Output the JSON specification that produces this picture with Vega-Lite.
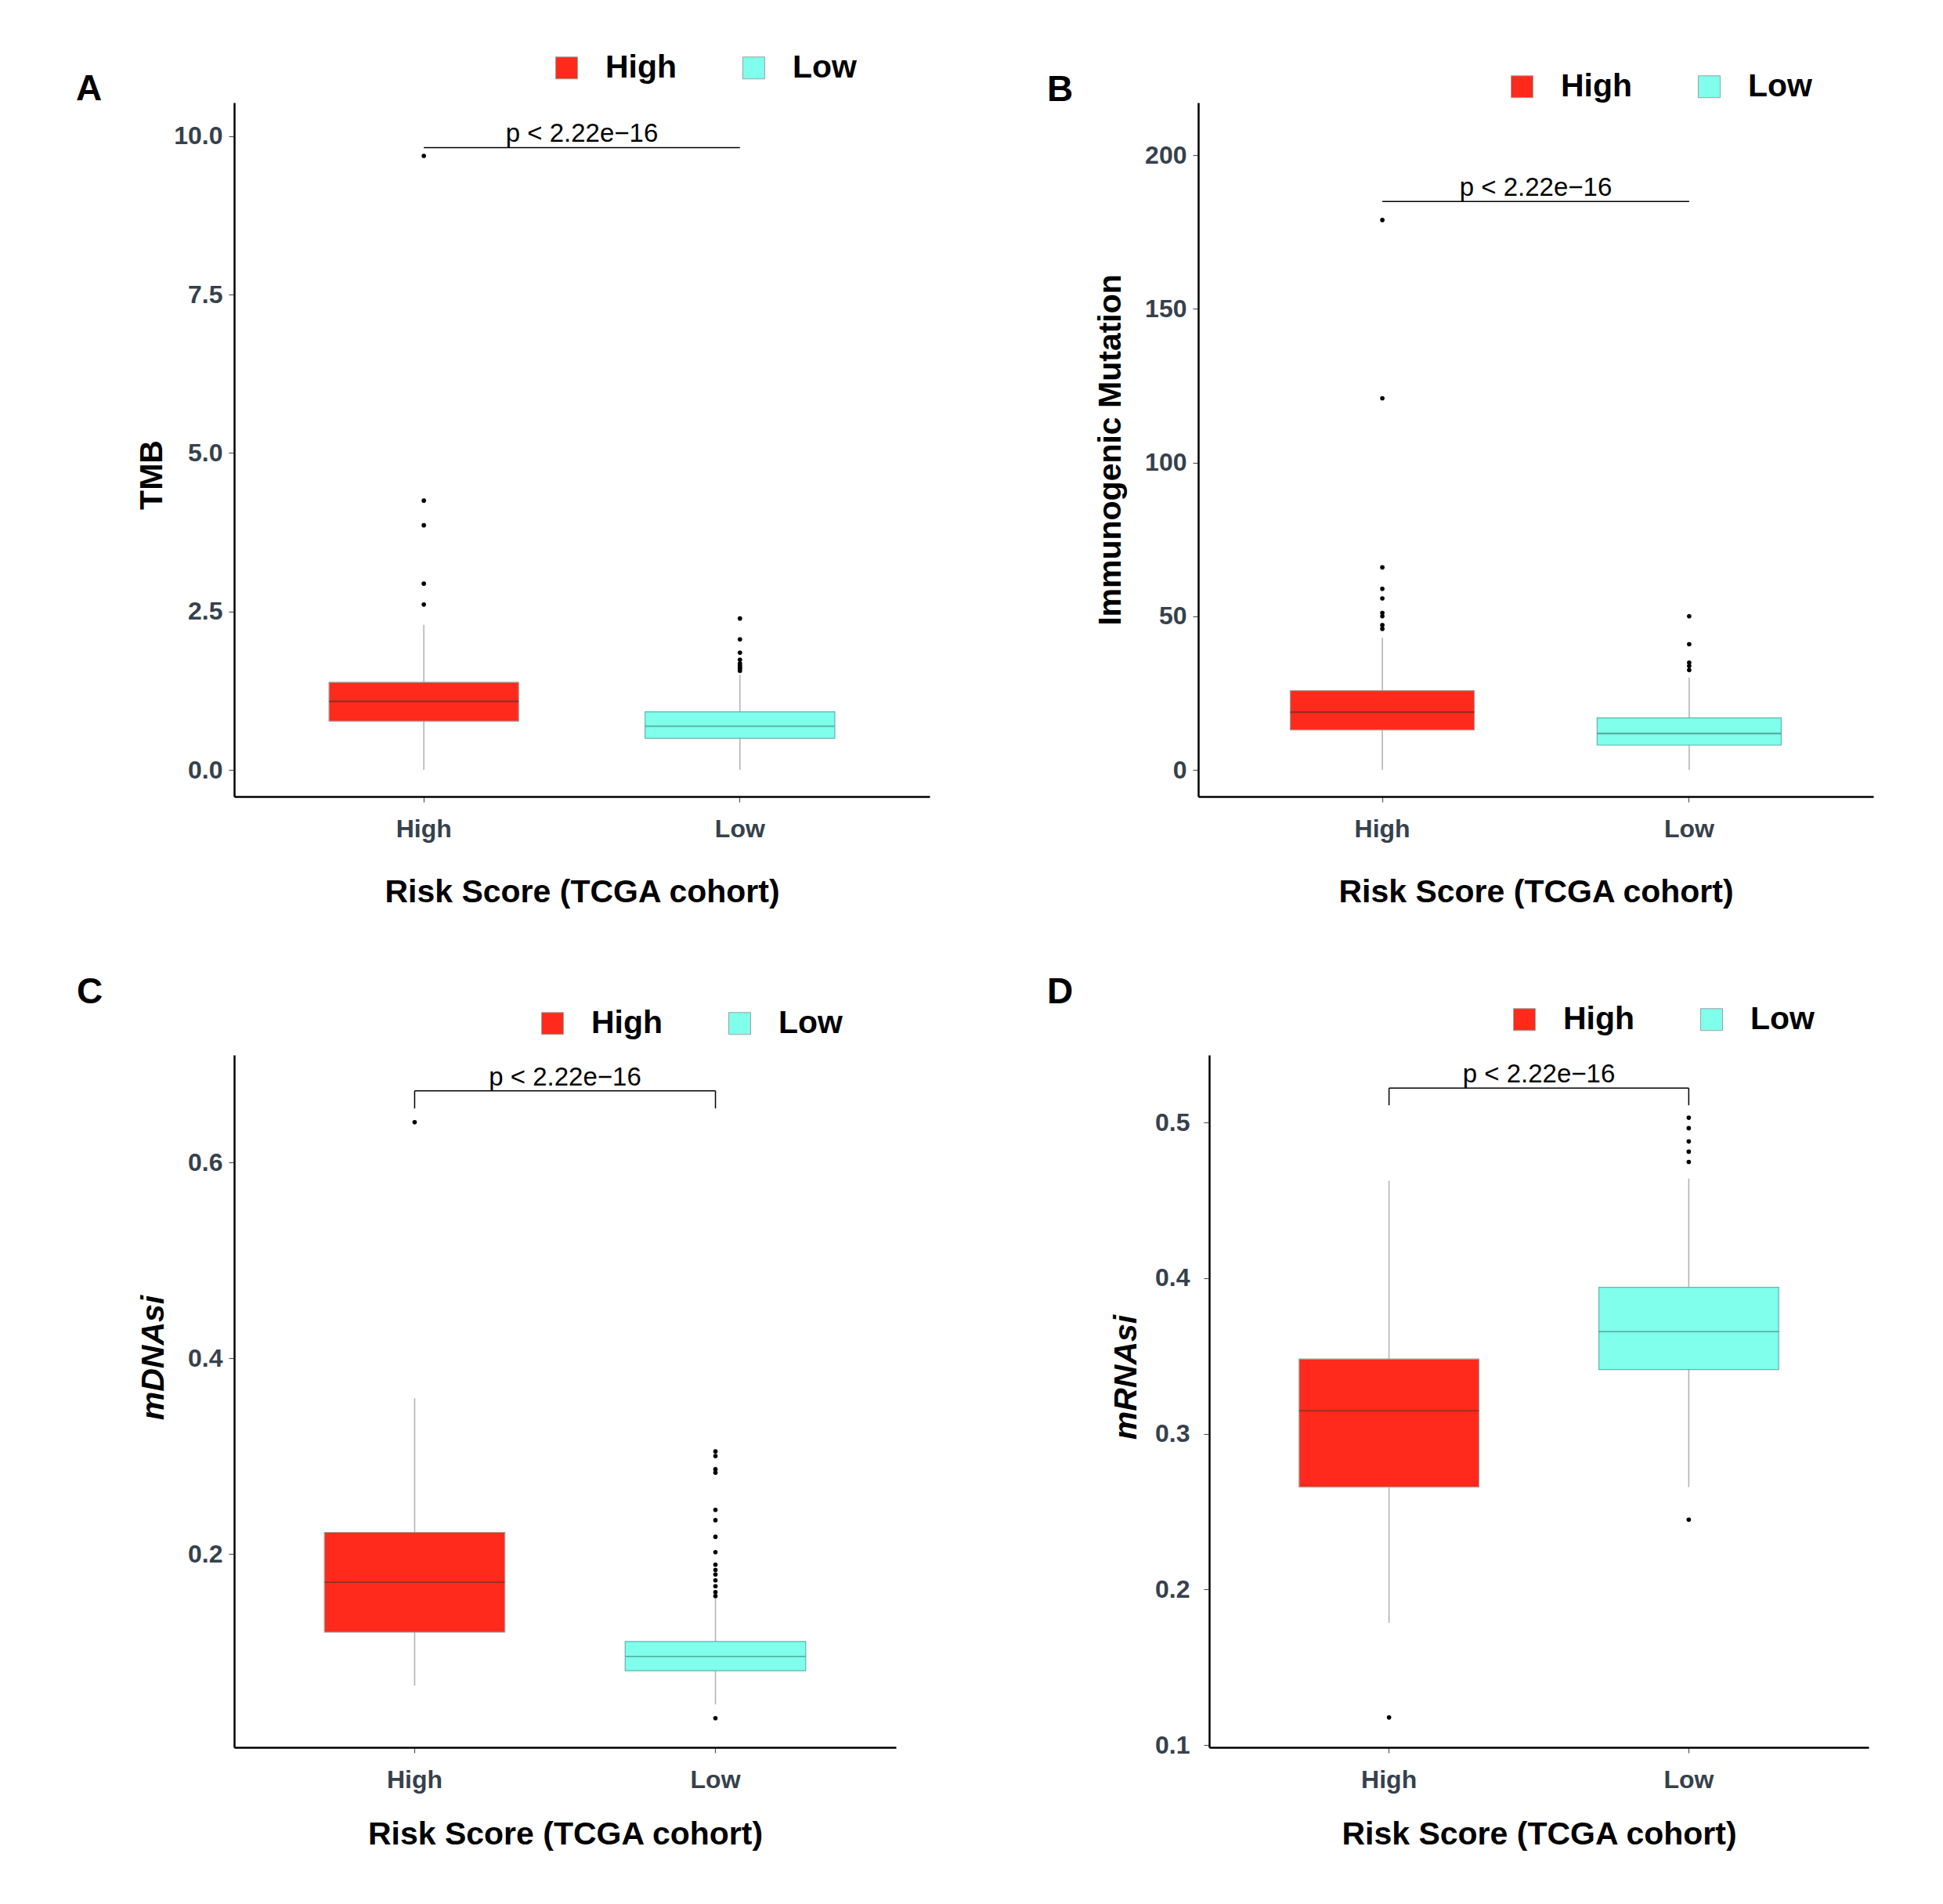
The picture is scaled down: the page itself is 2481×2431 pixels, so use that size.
{
  "$schema": "https://vega.github.io/schema/vega-lite/v6.json",
  "background": "white",
  "padding": {"left": 97, "top": 66, "right": 10, "bottom": 10},
  "config": {
    "font": "Liberation Sans",
    "view": {"stroke": null},
    "axis": {"grid": false, "domainColor": "black", "domainWidth": 2.5, "tickColor": "#555555", "tickSize": 7, "tickWidth": 1.2, "labelFontSize": 32, "labelFontWeight": "bold", "labelColor": "#36414C", "titleFontSize": 41, "titleFontWeight": "bold", "titleColor": "black"},
    "axisX": {"labelPadding": 19, "titlePadding": 45, "labelAngle": 0},
    "axisY": {"labelPadding": 8, "titlePadding": 22},
    "legend": {"direction": "horizontal", "labelFontSize": 41, "labelFontWeight": "bold", "labelColor": "black", "symbolType": "square", "symbolSize": 784, "symbolStrokeColor": "#A0A0A0", "symbolStrokeWidth": 1, "labelOffset": 29, "columnPadding": 77},
    "title": {"fontSize": 46, "fontWeight": "bold", "color": "black", "anchor": "start", "frame": "group"}
  },
  "datasets": {
    "stats": [
      {"panel": "A", "group": "High", "lower": 0, "q1": 0.767, "median": 1.083, "q3": 1.383, "upper": 2.29},
      {"panel": "A", "group": "Low", "lower": 0, "q1": 0.498, "median": 0.688, "q3": 0.917, "upper": 1.50},
      {"panel": "B", "group": "High", "lower": 0, "q1": 13.0, "median": 18.8, "q3": 25.8, "upper": 43.0},
      {"panel": "B", "group": "Low", "lower": 0, "q1": 8.1, "median": 11.85, "q3": 16.9, "upper": 30.0},
      {"panel": "C", "group": "High", "lower": 0.0655, "q1": 0.120, "median": 0.171, "q3": 0.222, "upper": 0.359},
      {"panel": "C", "group": "Low", "lower": 0.0462, "q1": 0.0807, "median": 0.0953, "q3": 0.1105, "upper": 0.155},
      {"panel": "D", "group": "High", "lower": 0.1785, "q1": 0.2657, "median": 0.3147, "q3": 0.348, "upper": 0.4624},
      {"panel": "D", "group": "Low", "lower": 0.2657, "q1": 0.3412, "median": 0.3656, "q3": 0.394, "upper": 0.4639}
    ],
    "outliers": [
      {"panel": "A", "group": "High", "value": 2.61},
      {"panel": "A", "group": "High", "value": 2.94},
      {"panel": "A", "group": "High", "value": 3.86},
      {"panel": "A", "group": "High", "value": 4.25},
      {"panel": "A", "group": "High", "value": 9.69},
      {"panel": "A", "group": "Low", "value": 1.565},
      {"panel": "A", "group": "Low", "value": 1.60},
      {"panel": "A", "group": "Low", "value": 1.62},
      {"panel": "A", "group": "Low", "value": 1.65},
      {"panel": "A", "group": "Low", "value": 1.68},
      {"panel": "A", "group": "Low", "value": 1.74},
      {"panel": "A", "group": "Low", "value": 1.85},
      {"panel": "A", "group": "Low", "value": 2.06},
      {"panel": "A", "group": "Low", "value": 2.39},
      {"panel": "B", "group": "High", "value": 45.9},
      {"panel": "B", "group": "High", "value": 47.1},
      {"panel": "B", "group": "High", "value": 50.0},
      {"panel": "B", "group": "High", "value": 51.1},
      {"panel": "B", "group": "High", "value": 55.8},
      {"panel": "B", "group": "High", "value": 58.9},
      {"panel": "B", "group": "High", "value": 65.9},
      {"panel": "B", "group": "High", "value": 120.9},
      {"panel": "B", "group": "High", "value": 178.9},
      {"panel": "B", "group": "Low", "value": 32.5},
      {"panel": "B", "group": "Low", "value": 33.8},
      {"panel": "B", "group": "Low", "value": 34.9},
      {"panel": "B", "group": "Low", "value": 40.9},
      {"panel": "B", "group": "Low", "value": 50.0},
      {"panel": "C", "group": "High", "value": 0.641},
      {"panel": "C", "group": "Low", "value": 0.0322},
      {"panel": "C", "group": "Low", "value": 0.157},
      {"panel": "C", "group": "Low", "value": 0.161},
      {"panel": "C", "group": "Low", "value": 0.167},
      {"panel": "C", "group": "Low", "value": 0.173},
      {"panel": "C", "group": "Low", "value": 0.179},
      {"panel": "C", "group": "Low", "value": 0.1836},
      {"panel": "C", "group": "Low", "value": 0.189},
      {"panel": "C", "group": "Low", "value": 0.2018},
      {"panel": "C", "group": "Low", "value": 0.2175},
      {"panel": "C", "group": "Low", "value": 0.2345},
      {"panel": "C", "group": "Low", "value": 0.245},
      {"panel": "C", "group": "Low", "value": 0.283},
      {"panel": "C", "group": "Low", "value": 0.2865},
      {"panel": "C", "group": "Low", "value": 0.300},
      {"panel": "C", "group": "Low", "value": 0.3047},
      {"panel": "D", "group": "High", "value": 0.1177},
      {"panel": "D", "group": "Low", "value": 0.2448},
      {"panel": "D", "group": "Low", "value": 0.4746},
      {"panel": "D", "group": "Low", "value": 0.4812},
      {"panel": "D", "group": "Low", "value": 0.4878},
      {"panel": "D", "group": "Low", "value": 0.4963},
      {"panel": "D", "group": "Low", "value": 0.503}
    ],
    "brackets": [
      {"panel": "A", "g1": "High", "g2": "Low", "ytop": 9.82, "label": "p < 2.22e\u221216"},
      {"panel": "B", "g1": "High", "g2": "Low", "ytop": 184.9, "label": "p < 2.22e\u221216"},
      {"panel": "C", "g1": "High", "g2": "Low", "ytop": 0.673, "label": "p < 2.22e\u221216"},
      {"panel": "D", "g1": "High", "g2": "Low", "ytop": 0.522, "label": "p < 2.22e\u221216"}
    ],
    "bracketEnds": [
      {"panel": "C", "group": "High", "yend": 0.655, "ytop": 0.673},
      {"panel": "C", "group": "Low", "yend": 0.655, "ytop": 0.673},
      {"panel": "D", "group": "High", "yend": 0.511, "ytop": 0.522},
      {"panel": "D", "group": "Low", "yend": 0.511, "ytop": 0.522}
    ]
  },
  "resolve": {"scale": {"color": "independent"}, "legend": {"color": "independent"}},
  "spacing": 85,
  "vconcat": [
    {
      "hconcat": [
        {
          "width": 888, "height": 886,
          "title": {"text": "A", "dx": -202, "dy": 76, "offset": 4},
          "layer": [
            {"data": {"name": "stats"}, "transform": [{"filter": "datum.panel === 'A'"}],
             "mark": {"type": "rule", "color": "#B0B0B0", "strokeWidth": 1.5},
             "encoding": {
               "x": {"field": "group", "type": "nominal", "title": "Risk Score (TCGA cohort)", "scale": {"domain": ["High", "Low"], "paddingInner": 0, "paddingOuter": 0.1}},
               "y": {"field": "lower", "type": "quantitative", "title": "TMB", "scale": {"domain": [-0.42, 10.53], "nice": false, "zero": false}, "axis": {"values": [0, 2.5, 5, 7.5, 10], "format": ".1f", "titlePadding": 6, "titleY": 475}},
               "y2": {"field": "upper"}}},
            {"data": {"name": "stats"}, "transform": [{"filter": "datum.panel === 'A'"}],
             "mark": {"type": "bar", "width": {"band": 0.6}, "strokeWidth": 1.2},
             "encoding": {
               "x": {"field": "group", "type": "nominal", "title": "Risk Score (TCGA cohort)"},
               "y": {"field": "q1", "type": "quantitative", "title": "TMB"},
               "y2": {"field": "q3"},
               "color": {"field": "group", "type": "nominal", "scale": {"domain": ["High", "Low"], "range": ["#FF2A1C", "#7FFFEC"]}, "legend": {"title": null, "orient": "none", "legendX": 404, "legendY": -65}},
               "stroke": {"condition": {"test": "datum.group === 'High'", "value": "#A0A0A0"}, "value": "#63B3A9"}}},
            {"data": {"name": "stats"}, "transform": [{"filter": "datum.panel === 'A'"}],
             "mark": {"type": "tick", "size": 242, "thickness": 2},
             "encoding": {
               "x": {"field": "group", "type": "nominal", "title": "Risk Score (TCGA cohort)"},
               "y": {"field": "median", "type": "quantitative", "title": "TMB"},
               "color": {"condition": {"test": "datum.group === 'High'", "value": "#5A2E26"}, "value": "#4F9A92"}}},
            {"data": {"name": "outliers"}, "transform": [{"filter": "datum.panel === 'A'"}],
             "mark": {"type": "circle", "size": 32, "color": "black", "opacity": 1},
             "encoding": {
               "x": {"field": "group", "type": "nominal", "title": "Risk Score (TCGA cohort)"},
               "y": {"field": "value", "type": "quantitative", "title": "TMB"}}},
            {"data": {"name": "brackets"}, "transform": [{"filter": "datum.panel === 'A'"}],
             "mark": {"type": "rule", "color": "black", "strokeWidth": 1.5},
             "encoding": {
               "x": {"field": "g1", "type": "nominal", "title": "Risk Score (TCGA cohort)"},
               "x2": {"field": "g2"},
               "y": {"field": "ytop", "type": "quantitative", "title": "TMB"}}},
            {"data": {"name": "brackets"}, "transform": [{"filter": "datum.panel === 'A'"}],
             "mark": {"type": "text", "fontSize": 33, "baseline": "alphabetic", "align": "center", "dy": -7, "color": "black"},
             "encoding": {
               "x": {"field": "g1", "type": "nominal", "bandPosition": 1, "title": "Risk Score (TCGA cohort)"},
               "y": {"field": "ytop", "type": "quantitative", "title": "TMB"},
               "text": {"field": "label"}}}
          ]
        },
        {
          "width": 862, "height": 886,
          "title": {"text": "B", "dx": -193, "dy": 53, "offset": 4},
          "layer": [
            {"data": {"name": "stats"}, "transform": [{"filter": "datum.panel === 'B'"}],
             "mark": {"type": "rule", "color": "#B0B0B0", "strokeWidth": 1.5},
             "encoding": {
               "x": {"field": "group", "type": "nominal", "title": "Risk Score (TCGA cohort)", "scale": {"domain": ["High", "Low"], "paddingInner": 0, "paddingOuter": 0.1}},
               "y": {"field": "lower", "type": "quantitative", "title": "Immunogenic Mutation", "scale": {"domain": [-8.66, 217.1], "nice": false, "zero": false}, "axis": {"values": [0, 50, 100, 150, 200]}},
               "y2": {"field": "upper"}}},
            {"data": {"name": "stats"}, "transform": [{"filter": "datum.panel === 'B'"}],
             "mark": {"type": "bar", "width": {"band": 0.6}, "strokeWidth": 1.2},
             "encoding": {
               "x": {"field": "group", "type": "nominal", "title": "Risk Score (TCGA cohort)"},
               "y": {"field": "q1", "type": "quantitative", "title": "Immunogenic Mutation"},
               "y2": {"field": "q3"},
               "color": {"field": "group", "type": "nominal", "scale": {"domain": ["High", "Low"], "range": ["#FF2A1C", "#7FFFEC"]}, "legend": {"title": null, "orient": "none", "legendX": 393, "legendY": -41}},
               "stroke": {"condition": {"test": "datum.group === 'High'", "value": "#A0A0A0"}, "value": "#63B3A9"}}},
            {"data": {"name": "stats"}, "transform": [{"filter": "datum.panel === 'B'"}],
             "mark": {"type": "tick", "size": 235, "thickness": 2},
             "encoding": {
               "x": {"field": "group", "type": "nominal", "title": "Risk Score (TCGA cohort)"},
               "y": {"field": "median", "type": "quantitative", "title": "Immunogenic Mutation"},
               "color": {"condition": {"test": "datum.group === 'High'", "value": "#5A2E26"}, "value": "#3F7F78"}}},
            {"data": {"name": "outliers"}, "transform": [{"filter": "datum.panel === 'B'"}],
             "mark": {"type": "circle", "size": 32, "color": "black", "opacity": 1},
             "encoding": {
               "x": {"field": "group", "type": "nominal", "title": "Risk Score (TCGA cohort)"},
               "y": {"field": "value", "type": "quantitative", "title": "Immunogenic Mutation"}}},
            {"data": {"name": "brackets"}, "transform": [{"filter": "datum.panel === 'B'"}],
             "mark": {"type": "rule", "color": "black", "strokeWidth": 1.5},
             "encoding": {
               "x": {"field": "g1", "type": "nominal", "title": "Risk Score (TCGA cohort)"},
               "x2": {"field": "g2"},
               "y": {"field": "ytop", "type": "quantitative", "title": "Immunogenic Mutation"}}},
            {"data": {"name": "brackets"}, "transform": [{"filter": "datum.panel === 'B'"}],
             "mark": {"type": "text", "fontSize": 33, "baseline": "alphabetic", "align": "center", "dy": -7, "color": "black"},
             "encoding": {
               "x": {"field": "g1", "type": "nominal", "bandPosition": 1, "title": "Risk Score (TCGA cohort)"},
               "y": {"field": "ytop", "type": "quantitative", "title": "Immunogenic Mutation"},
               "text": {"field": "label"}}}
          ]
        }
      ],
      "spacing": 343,
      "bounds": "flush",
      "resolve": {"scale": {"color": "independent"}, "legend": {"color": "independent"}}
    },
    {
      "hconcat": [
        {
          "width": 845, "height": 884,
          "title": {"text": "C", "dx": -201, "dy": 9, "offset": 4},
          "layer": [
            {"data": {"name": "stats"}, "transform": [{"filter": "datum.panel === 'C'"}],
             "mark": {"type": "rule", "color": "#B0B0B0", "strokeWidth": 1.5},
             "encoding": {
               "x": {"field": "group", "type": "nominal", "title": "Risk Score (TCGA cohort)", "scale": {"domain": ["High", "Low"], "paddingInner": 0, "paddingOuter": 0.1}, "axis": {"titlePadding": 34}},
               "y": {"field": "lower", "type": "quantitative", "title": "mDNAsi", "scale": {"domain": [0.0024, 0.7096], "nice": false, "zero": false}, "axis": {"values": [0.2, 0.4, 0.6], "format": ".1f", "titleFontStyle": "italic", "titleY": 386}},
               "y2": {"field": "upper"}}},
            {"data": {"name": "stats"}, "transform": [{"filter": "datum.panel === 'C'"}],
             "mark": {"type": "bar", "width": {"band": 0.6}, "strokeWidth": 1.2},
             "encoding": {
               "x": {"field": "group", "type": "nominal", "title": "Risk Score (TCGA cohort)"},
               "y": {"field": "q1", "type": "quantitative", "title": "mDNAsi"},
               "y2": {"field": "q3"},
               "color": {"field": "group", "type": "nominal", "scale": {"domain": ["High", "Low"], "range": ["#FF2A1C", "#7FFFEC"]}, "legend": {"title": null, "orient": "none", "legendX": 386, "legendY": -61}},
               "stroke": {"condition": {"test": "datum.group === 'High'", "value": "#A0A0A0"}, "value": "#63B3A9"}}},
            {"data": {"name": "stats"}, "transform": [{"filter": "datum.panel === 'C'"}],
             "mark": {"type": "tick", "size": 230, "thickness": 1.5},
             "encoding": {
               "x": {"field": "group", "type": "nominal", "title": "Risk Score (TCGA cohort)"},
               "y": {"field": "median", "type": "quantitative", "title": "mDNAsi"},
               "color": {"condition": {"test": "datum.group === 'High'", "value": "#5A2E26"}, "value": "#3F7F78"}}},
            {"data": {"name": "outliers"}, "transform": [{"filter": "datum.panel === 'C'"}],
             "mark": {"type": "circle", "size": 32, "color": "black", "opacity": 1},
             "encoding": {
               "x": {"field": "group", "type": "nominal", "title": "Risk Score (TCGA cohort)"},
               "y": {"field": "value", "type": "quantitative", "title": "mDNAsi"}}},
            {"data": {"name": "brackets"}, "transform": [{"filter": "datum.panel === 'C'"}],
             "mark": {"type": "rule", "color": "black", "strokeWidth": 1.5},
             "encoding": {
               "x": {"field": "g1", "type": "nominal", "title": "Risk Score (TCGA cohort)"},
               "x2": {"field": "g2"},
               "y": {"field": "ytop", "type": "quantitative", "title": "mDNAsi"}}},
            {"data": {"name": "bracketEnds"}, "transform": [{"filter": "datum.panel === 'C'"}],
             "mark": {"type": "rule", "color": "black", "strokeWidth": 1.5},
             "encoding": {
               "x": {"field": "group", "type": "nominal", "title": "Risk Score (TCGA cohort)"},
               "y": {"field": "yend", "type": "quantitative", "title": "mDNAsi"},
               "y2": {"field": "ytop"}}},
            {"data": {"name": "brackets"}, "transform": [{"filter": "datum.panel === 'C'"}],
             "mark": {"type": "text", "fontSize": 33, "baseline": "alphabetic", "align": "center", "dy": -7, "color": "black"},
             "encoding": {
               "x": {"field": "g1", "type": "nominal", "bandPosition": 1, "title": "Risk Score (TCGA cohort)"},
               "y": {"field": "ytop", "type": "quantitative", "title": "mDNAsi"},
               "text": {"field": "label"}}}
          ]
        },
        {
          "width": 842, "height": 884,
          "title": {"text": "D", "dx": -207, "dy": 14, "offset": 4},
          "layer": [
            {"data": {"name": "stats"}, "transform": [{"filter": "datum.panel === 'D'"}],
             "mark": {"type": "rule", "color": "#B0B0B0", "strokeWidth": 1.5},
             "encoding": {
               "x": {"field": "group", "type": "nominal", "title": "Risk Score (TCGA cohort)", "scale": {"domain": ["High", "Low"], "paddingInner": 0, "paddingOuter": 0.1}, "axis": {"titlePadding": 34}},
               "y": {"field": "lower", "type": "quantitative", "title": "mRNAsi", "scale": {"domain": [0.0985, 0.5433], "nice": false, "zero": false}, "axis": {"values": [0.1, 0.2, 0.3, 0.4, 0.5], "format": ".1f", "titleFontStyle": "italic", "labelPadding": 18, "titlePadding": 15, "titleY": 411}},
               "y2": {"field": "upper"}}},
            {"data": {"name": "stats"}, "transform": [{"filter": "datum.panel === 'D'"}],
             "mark": {"type": "bar", "width": {"band": 0.6}, "strokeWidth": 1.2},
             "encoding": {
               "x": {"field": "group", "type": "nominal", "title": "Risk Score (TCGA cohort)"},
               "y": {"field": "q1", "type": "quantitative", "title": "mRNAsi"},
               "y2": {"field": "q3"},
               "color": {"field": "group", "type": "nominal", "scale": {"domain": ["High", "Low"], "range": ["#FF2A1C", "#7FFFEC"]}, "legend": {"title": null, "orient": "none", "legendX": 382, "legendY": -66}},
               "stroke": {"condition": {"test": "datum.group === 'High'", "value": "#A0A0A0"}, "value": "#63B3A9"}}},
            {"data": {"name": "stats"}, "transform": [{"filter": "datum.panel === 'D'"}],
             "mark": {"type": "tick", "size": 230, "thickness": 1.5},
             "encoding": {
               "x": {"field": "group", "type": "nominal", "title": "Risk Score (TCGA cohort)"},
               "y": {"field": "median", "type": "quantitative", "title": "mRNAsi"},
               "color": {"condition": {"test": "datum.group === 'High'", "value": "#5A2E26"}, "value": "#3F7F78"}}},
            {"data": {"name": "outliers"}, "transform": [{"filter": "datum.panel === 'D'"}],
             "mark": {"type": "circle", "size": 32, "color": "black", "opacity": 1},
             "encoding": {
               "x": {"field": "group", "type": "nominal", "title": "Risk Score (TCGA cohort)"},
               "y": {"field": "value", "type": "quantitative", "title": "mRNAsi"}}},
            {"data": {"name": "brackets"}, "transform": [{"filter": "datum.panel === 'D'"}],
             "mark": {"type": "rule", "color": "black", "strokeWidth": 1.5},
             "encoding": {
               "x": {"field": "g1", "type": "nominal", "title": "Risk Score (TCGA cohort)"},
               "x2": {"field": "g2"},
               "y": {"field": "ytop", "type": "quantitative", "title": "mRNAsi"}}},
            {"data": {"name": "bracketEnds"}, "transform": [{"filter": "datum.panel === 'D'"}],
             "mark": {"type": "rule", "color": "black", "strokeWidth": 1.5},
             "encoding": {
               "x": {"field": "group", "type": "nominal", "title": "Risk Score (TCGA cohort)"},
               "y": {"field": "yend", "type": "quantitative", "title": "mRNAsi"},
               "y2": {"field": "ytop"}}},
            {"data": {"name": "brackets"}, "transform": [{"filter": "datum.panel === 'D'"}],
             "mark": {"type": "text", "fontSize": 33, "baseline": "alphabetic", "align": "center", "dy": -7, "color": "black"},
             "encoding": {
               "x": {"field": "g1", "type": "nominal", "bandPosition": 1, "title": "Risk Score (TCGA cohort)"},
               "y": {"field": "ytop", "type": "quantitative", "title": "mRNAsi"},
               "text": {"field": "label"}}}
          ]
        }
      ],
      "spacing": 400,
      "bounds": "flush",
      "resolve": {"scale": {"color": "independent"}, "legend": {"color": "independent"}}
    }
  ]
}
